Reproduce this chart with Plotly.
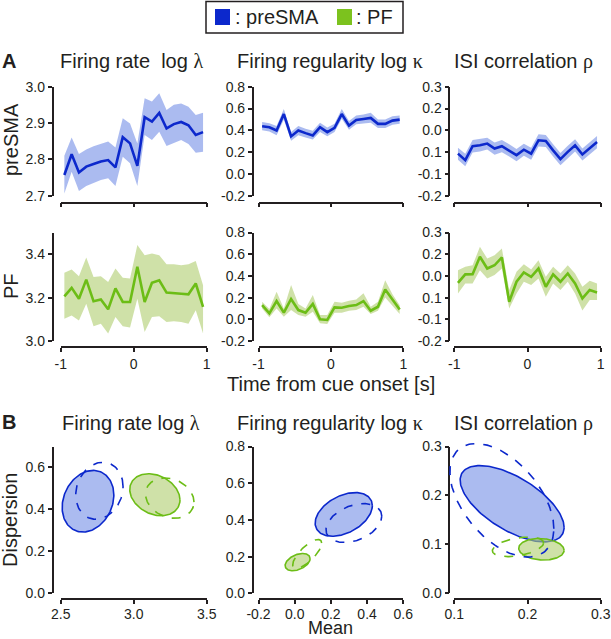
import numpy as np
import plotly.graph_objects as go

W, H = 611, 639

# time points (s) for row A
t = [-0.95, -0.85, -0.75, -0.65, -0.55, -0.45, -0.35, -0.25, -0.15, -0.05,
     0.05, 0.15, 0.25, 0.35, 0.45, 0.55, 0.65, 0.75, 0.85, 0.95]

# preSMA
fr_pre_mean = [2.757, 2.814, 2.764, 2.780, 2.787, 2.794, 2.798, 2.778, 2.861, 2.844,
               2.782, 2.916, 2.904, 2.928, 2.885, 2.897, 2.903, 2.894, 2.867, 2.875]
fr_pre_hi = [2.810, 2.860, 2.815, 2.827, 2.836, 2.842, 2.849, 2.833, 2.913, 2.899,
             2.844, 2.968, 2.959, 2.982, 2.936, 2.950, 2.954, 2.945, 2.922, 2.928]
fr_pre_lo = [2.706, 2.766, 2.713, 2.727, 2.736, 2.743, 2.748, 2.727, 2.807, 2.789,
             2.727, 2.867, 2.853, 2.876, 2.837, 2.846, 2.853, 2.842, 2.818, 2.821]

reg_pre_mean = [0.437, 0.428, 0.398, 0.549, 0.344, 0.398, 0.374, 0.353, 0.428, 0.383,
                0.422, 0.549, 0.443, 0.495, 0.504, 0.513, 0.459, 0.459, 0.489, 0.498]
reg_pre_hi = [0.475, 0.465, 0.440, 0.595, 0.385, 0.440, 0.415, 0.395, 0.470, 0.425,
              0.460, 0.595, 0.485, 0.535, 0.545, 0.560, 0.500, 0.500, 0.530, 0.535]
reg_pre_lo = [0.400, 0.390, 0.355, 0.500, 0.305, 0.355, 0.335, 0.315, 0.385, 0.345,
              0.385, 0.505, 0.405, 0.455, 0.465, 0.470, 0.420, 0.420, 0.450, 0.460]

isi_pre_mean = [-0.007, -0.037, 0.027, 0.031, 0.039, 0.016, 0.027, 0.008, -0.014, 0.011,
                -0.007, 0.054, 0.051, 0.008, -0.032, 0.001, 0.031, -0.011, 0.019, 0.046]
isi_pre_hi = [0.020, -0.008, 0.056, 0.060, 0.066, 0.044, 0.055, 0.036, 0.014, 0.038,
              0.020, 0.082, 0.079, 0.036, -0.004, 0.029, 0.059, 0.017, 0.047, 0.074]
isi_pre_lo = [-0.035, -0.065, -0.002, 0.003, 0.012, -0.012, -0.001, -0.020, -0.042, -0.017,
              -0.035, 0.026, 0.023, -0.020, -0.060, -0.027, 0.003, -0.039, -0.009, 0.018]

# PF
fr_pf_mean = [3.206, 3.245, 3.195, 3.283, 3.183, 3.191, 3.146, 3.242, 3.180, 3.180,
              3.342, 3.180, 3.268, 3.280, 3.223, 3.222, 3.218, 3.215, 3.265, 3.157]
fr_pf_hi = [3.315, 3.329, 3.298, 3.385, 3.295, 3.298, 3.272, 3.334, 3.292, 3.288,
            3.442, 3.395, 3.403, 3.395, 3.354, 3.354, 3.349, 3.354, 3.369, 3.257]
fr_pf_lo = [3.103, 3.118, 3.095, 3.172, 3.068, 3.080, 3.034, 3.111, 3.068, 3.062,
            3.195, 3.042, 3.111, 3.114, 3.088, 3.091, 3.088, 3.080, 3.142, 3.034]

reg_pf_mean = [0.131, 0.055, 0.168, 0.061, 0.187, 0.085, 0.061, 0.141, 0.000, -0.006,
               0.110, 0.107, 0.122, 0.131, 0.168, 0.079, 0.116, 0.275, 0.183, 0.090]
reg_pf_hi = [0.162, 0.095, 0.254, 0.100, 0.315, 0.141, 0.100, 0.223, 0.040, 0.040,
             0.162, 0.153, 0.171, 0.183, 0.239, 0.116, 0.162, 0.361, 0.232, 0.130]
reg_pf_lo = [0.100, 0.018, 0.100, 0.024, 0.085, 0.040, 0.024, 0.070, -0.037, -0.043,
             0.061, 0.061, 0.079, 0.085, 0.116, 0.049, 0.079, 0.202, 0.131, 0.050]

isi_pf_mean = [0.068, 0.107, 0.108, 0.188, 0.134, 0.149, 0.185, -0.019, 0.073, 0.116,
               0.096, 0.134, 0.050, 0.107, 0.073, 0.111, 0.065, -0.004, 0.035, 0.024]
isi_pf_hi = [0.126, 0.142, 0.149, 0.234, 0.180, 0.195, 0.226, 0.035, 0.119, 0.154,
             0.130, 0.172, 0.096, 0.142, 0.111, 0.149, 0.111, 0.050, 0.078, 0.065]
isi_pf_lo = [0.019, 0.065, 0.065, 0.126, 0.088, 0.104, 0.134, -0.050, 0.019, 0.073,
             0.058, 0.088, 0.004, 0.065, 0.035, 0.073, 0.019, -0.060, -0.011, -0.011]

# row B ellipses: center x (mean), center y (dispersion), half-width, half-height, tilt (corr)
# solid = epoch 1, dashed = epoch 2
fr_ell_pre = [(2.687, 0.439, 0.177, 0.147, 0.2), (2.765, 0.489, 0.162, 0.136, 0.15)]
fr_ell_pf = [(3.145, 0.470, 0.172, 0.100, -0.25), (3.247, 0.454, 0.166, 0.096, -0.2)]
reg_ell_pre = [(0.271, 0.430, 0.158, 0.119, 0.4), (0.327, 0.383, 0.154, 0.106, 0.35)]
reg_ell_pf = [(0.016, 0.170, 0.069, 0.047, 0.4), (0.069, 0.2145, 0.080, 0.079, 0.75)]
isi_ell_pre = [(0.179, 0.183, 0.071, 0.078, -0.62), (0.165, 0.190, 0.071, 0.116, -0.5)]
isi_ell_pf = [(0.219, 0.090, 0.031, 0.022, -0.1), (0.187, 0.095, 0.035, 0.020, 0.4)]

# tick values / labels (labels as printed in the figure, ASCII hyphen)
time_ticks = [-1, 0, 1]
time_labels = ["-1", "0", "1"]
fr_pre_ticks = [2.7, 2.8, 2.9, 3.0]
fr_pre_labels = ["2.7", "2.8", "2.9", "3.0"]
fr_pf_ticks = [3.0, 3.2, 3.4]
fr_pf_labels = ["3.0", "3.2", "3.4"]
reg_ticks = [-0.2, 0, 0.2, 0.4, 0.6, 0.8]
reg_labels = ["-0.2", "0.0", "0.2", "0.4", "0.6", "0.8"]
isi_ticks = [-0.2, -0.1, 0, 0.1, 0.2, 0.3]
isi_labels = ["-0.2", "-0.1", "0.1", "0.0", "0.2", "0.3"]
b_fr_xticks = [2.5, 3.0, 3.5]
b_fr_xlabels = ["2.5", "3.0", "3.5"]
b_fr_yticks = [0, 0.2, 0.4, 0.6]
b_fr_ylabels = ["0.0", "0.2", "0.4", "0.6"]
b_reg_xticks = [-0.2, 0, 0.2, 0.4, 0.6]
b_reg_xlabels = ["-0.2", "0.0", "0.2", "0.4", "0.6"]
b_reg_yticks = [0, 0.2, 0.4, 0.6, 0.8]
b_reg_ylabels = ["0.0", "0.2", "0.4", "0.6", "0.8"]
b_isi_xticks = [0.1, 0.2, 0.3]
b_isi_xlabels = ["0.1", "0.2", "0.3"]
b_isi_yticks = [0, 0.1, 0.2, 0.3]
b_isi_ylabels = ["0.0", "0.1", "0.2", "0.3"]

BLUE, BLUE_F = "#0c28cc", "rgba(120,145,230,0.62)"
GREEN, GREEN_F = "#6cbd16", "rgba(175,205,110,0.6)"
INK = "#231f20"
FONT = "Liberation Sans, Arial, sans-serif"

# panel geometry in pixels: x-domain, y-domain, y of x-axis line, x of y-axis line
cols_x = [(60.7, 206.7, 52.5), (258.5, 403.3, 252.7), (454.3, 600.7, 449.3)]
rows_y = [(86.7, 195.7, 202.7), (232.5, 341.0, 347.3), (446.5, 593.3, 599.3)]

panels = [
    # row A preSMA
    dict(r=0, c=0, xr=[-1, 1], yr=[2.7, 3.0], xt=(time_ticks, time_labels), yt=(fr_pre_ticks, fr_pre_labels), xl=False),
    dict(r=0, c=1, xr=[-1, 1], yr=[-0.2, 0.8], xt=(time_ticks, time_labels), yt=(reg_ticks, reg_labels), xl=False),
    dict(r=0, c=2, xr=[-1, 1], yr=[-0.2, 0.3], xt=(time_ticks, time_labels), yt=(isi_ticks, isi_labels), xl=False),
    # row A PF
    dict(r=1, c=0, xr=[-1, 1], yr=[3.0, 3.5], xt=(time_ticks, time_labels), yt=(fr_pf_ticks, fr_pf_labels), xl=True),
    dict(r=1, c=1, xr=[-1, 1], yr=[-0.2, 0.8], xt=(time_ticks, time_labels), yt=(reg_ticks, reg_labels), xl=True),
    dict(r=1, c=2, xr=[-1, 1], yr=[-0.2, 0.3], xt=(time_ticks, time_labels), yt=(isi_ticks, isi_labels), xl=True),
    # row B
    dict(r=2, c=0, xr=[2.5, 3.5], yr=[0, 0.7], xt=(b_fr_xticks, b_fr_xlabels), yt=(b_fr_yticks, b_fr_ylabels), xl=True),
    dict(r=2, c=1, xr=[-0.2, 0.6], yr=[0, 0.8], xt=(b_reg_xticks, b_reg_xlabels), yt=(b_reg_yticks, b_reg_ylabels), xl=True),
    dict(r=2, c=2, xr=[0.1, 0.3], yr=[0, 0.3], xt=(b_isi_xticks, b_isi_xlabels), yt=(b_isi_yticks, b_isi_ylabels), xl=True),
]

fig = go.Figure()
layout = {}
for i, p in enumerate(panels, start=1):
    x0, x1, yx = cols_x[p["c"]]
    y0, y1, xy = rows_y[p["r"]]
    sfx = "" if i == 1 else str(i)
    common = dict(showline=True, linecolor=INK, linewidth=1.5, ticks="outside", ticklen=4,
                  tickwidth=1.5, tickcolor=INK, showgrid=False, zeroline=False,
                  tickfont=dict(family=FONT, size=14, color=INK), automargin=False,
                  anchor="free", ticklabeloverflow="allow")
    layout["xaxis" + sfx] = dict(common, domain=[x0 / W, x1 / W], position=1 - xy / H,
                                 range=p["xr"], tickvals=p["xt"][0], ticktext=p["xt"][1],
                                 showticklabels=p["xl"], ticklabelstandoff=-2 if p["r"] == 2 else 0)
    layout["yaxis" + sfx] = dict(common, domain=[1 - y1 / H, 1 - y0 / H], position=yx / W,
                                 range=p["yr"], tickvals=p["yt"][0], ticktext=p["yt"][1])

# invisible twin axes for row B, padded a few px so ellipses may spill past the spines
PAD = 10
for k, i in enumerate([7, 8, 9]):
    p = panels[i - 1]
    x0, x1, _ = cols_x[p["c"]]
    y0, y1, _ = rows_y[p["r"]]
    ux = (p["xr"][1] - p["xr"][0]) / (x1 - x0)
    uy = (p["yr"][1] - p["yr"][0]) / (y1 - y0)
    j = 10 + k
    hidden = dict(visible=False, showgrid=False, zeroline=False, automargin=False)
    layout["xaxis%d" % j] = dict(hidden, domain=[(x0 - PAD) / W, (x1 + PAD) / W], anchor="y%d" % j,
                                 range=[p["xr"][0] - PAD * ux, p["xr"][1] + PAD * ux])
    layout["yaxis%d" % j] = dict(hidden, domain=[1 - (y1 + PAD) / H, 1 - (y0 - PAD) / H], anchor="x%d" % j,
                                 range=[p["yr"][0] - PAD * uy, p["yr"][1] + PAD * uy])


def ref(i):
    return ("x", "y") if i == 1 else ("x%d" % i, "y%d" % i)


def band(i, mean, hi, lo, col, fcol):
    xa, ya = ref(i)
    fig.add_trace(go.Scatter(x=t + t[::-1], y=hi + lo[::-1], fill="toself", fillcolor=fcol,
                             line=dict(width=0), mode="lines", xaxis=xa, yaxis=ya,
                             showlegend=False, hoverinfo="skip"))
    fig.add_trace(go.Scatter(x=t, y=mean, mode="lines", line=dict(color=col, width=2.6),
                             xaxis=xa, yaxis=ya, showlegend=False))


band(1, fr_pre_mean, fr_pre_hi, fr_pre_lo, BLUE, BLUE_F)
band(2, reg_pre_mean, reg_pre_hi, reg_pre_lo, BLUE, BLUE_F)
band(3, isi_pre_mean, isi_pre_hi, isi_pre_lo, BLUE, BLUE_F)
band(4, fr_pf_mean, fr_pf_hi, fr_pf_lo, GREEN, GREEN_F)
band(5, reg_pf_mean, reg_pf_hi, reg_pf_lo, GREEN, GREEN_F)
band(6, isi_pf_mean, isi_pf_hi, isi_pf_lo, GREEN, GREEN_F)

# empty traces so the spines of the row-B panels get drawn
for i in [7, 8, 9]:
    xa, ya = ref(i)
    fig.add_trace(go.Scatter(x=[None], y=[None], mode="lines", xaxis=xa, yaxis=ya,
                             showlegend=False, hoverinfo="skip"))


def ellipse(cx, cy, rx, ry, rho, n=160):
    a = np.linspace(0, 2 * np.pi, n)
    return cx + rx * np.cos(a), cy + ry * (rho * np.cos(a) + np.sqrt(1 - rho ** 2) * np.sin(a))


def ellipses(i, pre, pf):
    xa, ya = ref(i)
    for ell, col, fcol in [(pre, BLUE, BLUE_F), (pf, GREEN, GREEN_F)]:
        ex, ey = ellipse(*ell[0])
        fig.add_trace(go.Scatter(x=ex, y=ey, fill="toself", fillcolor=fcol, mode="lines",
                                 line=dict(color=col, width=1.6), xaxis=xa, yaxis=ya, showlegend=False))
    for ell, col in [(pre, BLUE), (pf, GREEN)]:
        ex, ey = ellipse(*ell[1])
        fig.add_trace(go.Scatter(x=ex, y=ey, mode="lines", line=dict(color=col, width=1.6, dash="dash"),
                                 xaxis=xa, yaxis=ya, showlegend=False))


ellipses(10, fr_ell_pre, fr_ell_pf)
ellipses(11, reg_ell_pre, reg_ell_pf)
ellipses(12, isi_ell_pre, isi_ell_pf)

GR = '<span style="font-family:Liberation Serif">%s</span>'
titles = ["Firing rate  log " + GR % "λ", "Firing regularity log " + GR % "κ",
          "ISI correlation " + GR % "ρ"]
titles_b = ["Firing rate log " + GR % "λ", "Firing regularity log " + GR % "κ",
            "ISI correlation " + GR % "ρ"]
title_x = [131, 330, 523]

ann = []


def text(x, y, s, size=20, angle=0, bold=False, yanchor="middle"):
    if bold:
        s = "<b>%s</b>" % s
    ann.append(dict(x=x / W, y=1 - y / H, xref="paper", yref="paper", text=s, showarrow=False,
                    textangle=angle, xanchor="center", yanchor=yanchor,
                    font=dict(family=FONT, size=size, color=INK)))


for tx, s in zip(title_x, titles):
    text(tx, 61, s)
for tx, s in zip(title_x, titles_b):
    text(tx, 423, s)
text(9, 61, "A", bold=True)
text(9, 422, "B", bold=True)
text(11, 140, "preSMA", angle=-90)
text(11, 286, "PF", angle=-90)
text(10, 520, "Dispersion", angle=-90)
text(331, 384, "Time from cue onset [s]")
text(330, 640, "Mean", size=18, yanchor="bottom")

# legend box
ann.append(dict(x=233 / W, y=1 - 17 / H, xref="paper", yref="paper", text=": preSMA",
                showarrow=False, xanchor="left", yanchor="middle",
                font=dict(family=FONT, size=20, color=INK)))
ann.append(dict(x=354 / W, y=1 - 17 / H, xref="paper", yref="paper", text=": PF",
                showarrow=False, xanchor="left", yanchor="middle",
                font=dict(family=FONT, size=20, color=INK)))
shapes = [
    dict(type="rect", xref="paper", yref="paper", x0=206 / W, x1=403 / W, y0=1 - 33 / H, y1=1 - 1.5 / H,
         line=dict(color=INK, width=1.5), fillcolor="white", layer="below"),
    dict(type="rect", xref="paper", yref="paper", x0=215 / W, x1=230 / W, y0=1 - 25 / H, y1=1 - 9 / H,
         line=dict(width=0), fillcolor=BLUE),
    dict(type="rect", xref="paper", yref="paper", x0=337 / W, x1=352 / W, y0=1 - 25 / H, y1=1 - 9 / H,
         line=dict(width=0), fillcolor="#7cc21e"),
]

fig.update_layout(layout)
fig.update_layout(width=W, height=H, margin=dict(l=0, r=0, t=0, b=0), template="none",
                  paper_bgcolor="white", plot_bgcolor="rgba(0,0,0,0)", showlegend=False,
                  annotations=ann, shapes=shapes, font=dict(family=FONT, color=INK))
# drop the browser's default 8px page margin so the figure sits at the window origin
fig.write_html("out.html", config={"displayModeBar": False},
               post_script="document.body.style.margin='0';document.body.style.overflow='hidden';")
